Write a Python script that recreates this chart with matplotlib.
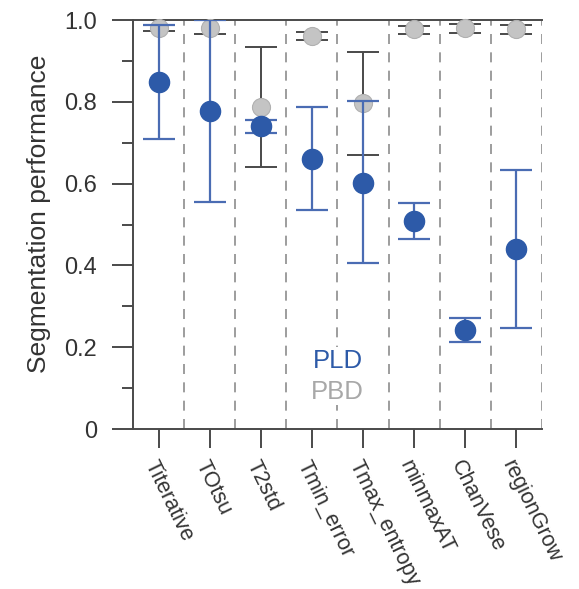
import matplotlib
matplotlib.use("Agg")
import matplotlib.pyplot as plt
import numpy as np
from matplotlib.ticker import MultipleLocator

plt.rcParams['font.family'] = ['Liberation Sans', 'DejaVu Sans']

methods = ["Titerative", "TOtsu", "T2std", "Tmin_error", "Tmax_entropy",
           "minmaxAT", "ChanVese", "regionGrow"]

# PLD: mean with lower / upper error bar ends
pld_mean = [0.849, 0.778, 0.741, 0.660, 0.602, 0.509, 0.242, 0.439]
pld_low = [0.708, 0.554, 0.724, 0.535, 0.405, 0.464, 0.213, 0.246]
pld_high = [0.989, 1.000, 0.755, 0.787, 0.801, 0.553, 0.272, 0.633]

# PBD
pbd_mean = [0.980, 0.980, 0.788, 0.962, 0.796, 0.977, 0.980, 0.977]
pbd_low = [0.974, 0.967, 0.641, 0.951, 0.669, 0.966, 0.969, 0.966]
pbd_high = [0.989, 1.000, 0.935, 0.971, 0.921, 0.985, 0.990, 0.988]

blue = "#2d5aa8"
blue_line = "#4a6cb3"
gray = "#c4c4c4"
dark = "#4a4a4a"

fig = plt.figure(figsize=(5.79, 5.89), dpi=100)
ax = fig.add_axes([0.2297, 0.2716, 0.7064, 0.6944])

x = np.arange(len(methods))

pbd_err = [np.array(pbd_mean) - np.array(pbd_low),
           np.array(pbd_high) - np.array(pbd_mean)]
pld_err = [np.array(pld_mean) - np.array(pld_low),
           np.array(pld_high) - np.array(pld_mean)]

ax.errorbar(x, pbd_mean, yerr=pbd_err, fmt='none', ecolor=dark,
            elinewidth=1.4, capsize=11.5, capthick=1.4, zorder=3)
ax.plot(x, pbd_mean, 'o', ms=13, mfc=gray, mec="#b0b0b0", mew=0.8,
        zorder=4, clip_on=False)
ax.errorbar(x, pld_mean, yerr=pld_err, fmt='none', ecolor=blue_line,
            elinewidth=1.6, capsize=11.5, capthick=1.6, zorder=5)
ax.plot(x, pld_mean, 'o', ms=14.5, mfc=blue, mec=blue, zorder=6,
        clip_on=False)

# dashed separators between methods
for xs in np.arange(0.5, len(methods), 1.0):
    ax.axvline(xs, color="#8c8c8c", lw=1.2, ls=(0, (6, 5)), zorder=1)

ax.set_xlim(-0.5, len(methods) - 0.5)
ax.set_ylim(0, 1.0)

ax.spines['right'].set_visible(False)
for s in ['left', 'bottom', 'top']:
    ax.spines[s].set_color(dark)
    ax.spines[s].set_linewidth(1.4)

ax.yaxis.set_major_locator(MultipleLocator(0.2))
ax.yaxis.set_minor_locator(MultipleLocator(0.1))
ax.set_yticks([0, 0.2, 0.4, 0.6, 0.8, 1.0])
ax.set_yticklabels(["0", "0.2", "0.4", "0.6", "0.8", "1.0"])
ax.tick_params(axis='y', which='major', direction='out', length=15,
               width=1.4, color=dark, labelsize=17, labelcolor="#333333",
               pad=11)
ax.tick_params(axis='y', which='minor', direction='out', length=8,
               width=1.4, color=dark)
ax.tick_params(axis='x', direction='out', length=14, width=1.4,
               color=dark, labelsize=15.5, labelcolor="#333333", pad=6)

ax.set_xticks(x)
ax.set_xticklabels(methods, rotation=-64, ha='left', va='top',
                   rotation_mode='anchor')

ax.set_ylabel("Segmentation performance", fontsize=19, color="#333333")
ax.yaxis.set_label_coords(-0.2, 0.525)

ax.text(3.5, 0.167, "PLD", color=blue, fontsize=18.5, ha='center',
        va='center', bbox=dict(fc='white', ec='none', pad=1))
ax.text(3.5, 0.091, "PBD", color="#a8a8a8", fontsize=18.5, ha='center',
        va='center', bbox=dict(fc='white', ec='none', pad=1))

fig.savefig("out.png", dpi=100)
